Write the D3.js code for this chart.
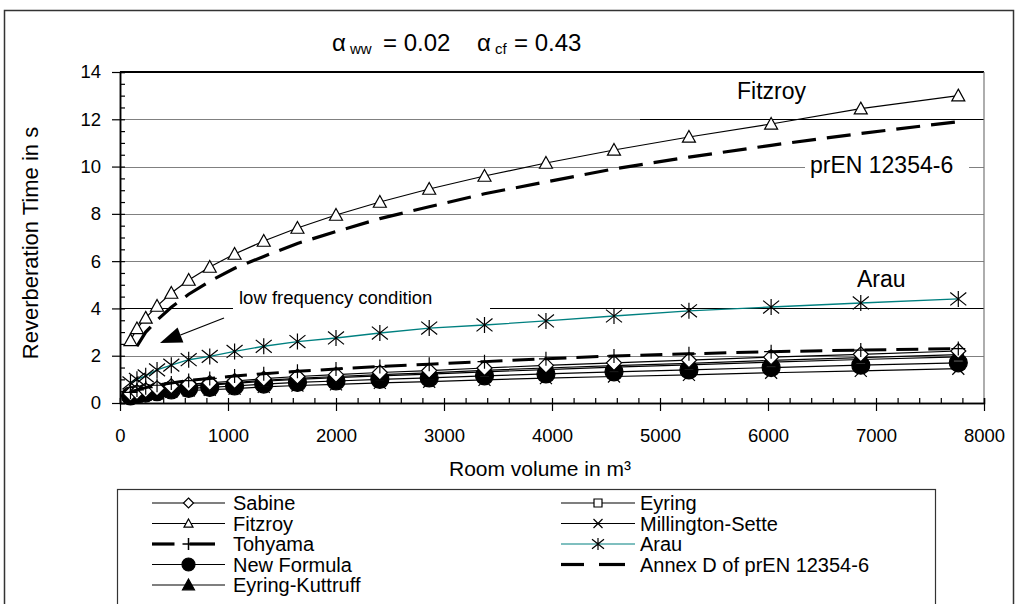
<!DOCTYPE html>
<html lang="en">
<head>
<meta charset="utf-8">
<title>Reverberation time vs room volume</title>
<script src="https://d3js.org/d3.v7.min.js"></script>
<style>
    body { margin: 0; background: #fff; }
    svg text { font-family: "Liberation Sans", Arial, sans-serif; fill: #000; }
</style>
</head>
<body>
<script>
// room volumes (m3)
const volumes = [97, 157, 238, 343, 475, 636, 831, 1061, 1331, 1643, 2000, 2406, 2863, 3375, 3944, 4574, 5268, 6029, 6859, 7762];

// reverberation times (s) per formula
const sabine = [0.39, 0.46, 0.54, 0.62, 0.71, 0.80, 0.85, 0.93, 1.03, 1.12, 1.20, 1.29, 1.37, 1.48, 1.59, 1.70, 1.81, 1.94, 2.06, 2.20];
const eyring = [0.35, 0.41, 0.48, 0.55, 0.63, 0.71, 0.76, 0.83, 0.92, 1.00, 1.07, 1.15, 1.22, 1.32, 1.41, 1.52, 1.61, 1.73, 1.84, 1.95];
const fitzroy = [2.65, 3.15, 3.6, 4.1, 4.65, 5.2, 5.75, 6.3, 6.85, 7.4, 7.95, 8.5, 9.05, 9.6, 10.15, 10.7, 11.25, 11.8, 12.45, 13.0];
const millington = [0.26, 0.31, 0.36, 0.41, 0.47, 0.53, 0.56, 0.61, 0.68, 0.74, 0.79, 0.85, 0.90, 0.98, 1.05, 1.12, 1.19, 1.28, 1.36, 1.45];
const tohyama = [0.45, 0.55, 0.65, 0.75, 0.85, 0.95, 1.04, 1.14, 1.24, 1.34, 1.44, 1.54, 1.64, 1.75, 1.87, 1.99, 2.08, 2.17, 2.24, 2.30];
const arau = [0.85, 1.0, 1.15, 1.4, 1.6, 1.83, 1.97, 2.18, 2.4, 2.6, 2.75, 2.96, 3.17, 3.3, 3.47, 3.68, 3.9, 4.06, 4.23, 4.4];
const newFormula = [0.30, 0.36, 0.42, 0.48, 0.55, 0.62, 0.66, 0.72, 0.80, 0.87, 0.93, 1.00, 1.06, 1.15, 1.23, 1.32, 1.40, 1.50, 1.60, 1.70];
const annexD = [null, 2.4, 3.0, 3.5, 4.05, 4.6, 5.15, 5.7, 6.2, 6.75, 7.25, 7.8, 8.3, 8.85, 9.35, 9.9, 10.4, 10.9, 11.4, 11.9];
const eyringKuttruff = [0.36, 0.43, 0.50, 0.58, 0.66, 0.74, 0.79, 0.86, 0.96, 1.04, 1.12, 1.20, 1.27, 1.38, 1.48, 1.58, 1.68, 1.80, 1.92, 2.05];

const xTicks = [0, 1000, 2000, 3000, 4000, 5000, 6000, 7000, 8000];
const yTicks = [0, 2, 4, 6, 8, 10, 12, 14];
const gridValues = [2, 4, 6, 8, 10, 12];

const w = 1018;
const h = 604;

const svg = d3.select("body")
    .append("svg")
    .attr("width", w)
    .attr("height", h);

const xScale = d3.scaleLinear().domain([0, 8000]).range([120, 984]);
const yScale = d3.scaleLinear().domain([0, 14]).range([403, 72]);

//outer chart frame
svg.append("rect")
    .attr("x", 4.5).attr("y", 10.5)
    .attr("width", 1009).attr("height", 620)
    .attr("fill", "none").attr("stroke", "#333").attr("stroke-width", 1.5);

//title
const title = svg.append("g").attr("font-size", "24px");
title.append("text").attr("x", 332).attr("y", 51).text("α");
title.append("text").attr("x", 350).attr("y", 54).attr("font-size", "15px").text("ww");
title.append("text").attr("x", 383).attr("y", 51).text("= 0.02");
title.append("text").attr("x", 477).attr("y", 51).text("α");
title.append("text").attr("x", 495).attr("y", 54).attr("font-size", "15px").text("cf");
title.append("text").attr("x", 514).attr("y", 51).text("= 0.43");

//gridlines
svg.append("g")
    .selectAll("line")
    .data(gridValues)
    .enter()
    .append("line")
    .attr("x1", xScale(0)).attr("x2", xScale(8000))
    .attr("y1", d => Math.round(yScale(d)) + 0.5)
    .attr("y2", d => Math.round(yScale(d)) + 0.5)
    .attr("stroke", d => d == 4 ? "#000" : "#808080")
    .attr("stroke-width", 1);

// darker stretch of the 12 s line on the right
svg.append("line")
    .attr("x1", 640).attr("x2", xScale(8000))
    .attr("y1", Math.round(yScale(12)) + 0.5).attr("y2", Math.round(yScale(12)) + 0.5)
    .attr("stroke", "#000");

//plot frame: top and right
svg.append("line")
    .attr("x1", xScale(0)).attr("x2", xScale(8000))
    .attr("y1", yScale(14)).attr("y2", yScale(14))
    .attr("stroke", "#000").attr("stroke-width", 2);
svg.append("line")
    .attr("x1", xScale(8000)).attr("x2", xScale(8000))
    .attr("y1", yScale(14)).attr("y2", yScale(0))
    .attr("stroke", "#777").attr("stroke-width", 1.2);

//label boxes that knock out the gridlines
svg.append("rect").attr("x", 233).attr("y", 286).attr("width", 257).attr("height", 30).attr("fill", "#fff");
svg.append("rect").attr("x", 805).attr("y", 152).attr("width", 164).attr("height", 28).attr("fill", "#fff");

//axes
const xMinor = svg.append("g")
    .attr("transform", "translate(0," + yScale(0) + ")")
    .call(d3.axisBottom(xScale).tickValues(d3.range(0, 8001, 200)).tickSize(-5).tickFormat(""));
const xAxis = svg.append("g")
    .attr("transform", "translate(0," + yScale(0) + ")")
    .call(d3.axisBottom(xScale).tickValues(xTicks).tickSizeInner(8).tickSizeOuter(0).tickPadding(18).tickFormat(d3.format("d")));
const yMinor = svg.append("g")
    .attr("transform", "translate(" + xScale(0) + ",0)")
    .call(d3.axisLeft(yScale).tickValues(d3.range(0, 14.01, 0.5)).tickSize(-5).tickFormat(""));
const yAxis = svg.append("g")
    .attr("transform", "translate(" + xScale(0) + ",0)")
    .call(d3.axisLeft(yScale).tickValues(yTicks).tickSizeInner(8).tickSizeOuter(0).tickPadding(11));

[xMinor, xAxis, yMinor, yAxis].forEach(function(g) {
    g.selectAll("line").attr("stroke", "#000").attr("stroke-width", 1.2);
    g.select(".domain").attr("stroke", "#000").attr("stroke-width", 1.5);
    g.selectAll("text")
        .attr("font-family", "'Liberation Sans', Arial, sans-serif")
        .attr("font-size", "18.5px")
        .attr("fill", "#000");
});

//axis titles
svg.append("text")
    .attr("x", 540).attr("y", 476)
    .attr("text-anchor", "middle")
    .attr("font-size", "21px")
    .text("Room volume in m³");
svg.append("text")
    .attr("transform", "translate(38,243) rotate(-90)")
    .attr("text-anchor", "middle")
    .attr("font-size", "22px")
    .text("Reverberation Time in s");

//marker shapes
function markerPath(type, s) {
    if (type == "diamond") return `M0,${-s}L${s},0L0,${s}L${-s},0Z`;
    if (type == "square") return `M${-s},${-s}H${s}V${s}H${-s}Z`;
    if (type == "triangle" || type == "triangleFilled") return `M0,${-s}L${s},${s * 0.8}L${-s},${s * 0.8}Z`;
    if (type == "x") return `M${-s},${-s}L${s},${s}M${-s},${s}L${s},${-s}`;
    if (type == "plus") return `M${-s},0H${s}M0,${-s}V${s}`;
    if (type == "star") return `M${-s},${-s * 0.8}L${s},${s * 0.8}M${-s},${s * 0.8}L${s},${-s * 0.8}M0,${-s}V${s}`;
    if (type == "circle") return d3.symbol(d3.symbolCircle, Math.PI * s * s)();
    return "";
}
function markerFill(type) {
    if (type == "circle" || type == "triangleFilled") return "#000";
    if (type == "diamond" || type == "square" || type == "triangle") return "#fff";
    return "none";
}

//series, drawn bottom to top
const series = [
    { name: "Millington-Sette", values: millington, marker: "x", size: 6, color: "#000", width: 1.2, dash: null },
    { name: "New Formula", values: newFormula, marker: "circle", size: 9, color: "#000", width: 1.2, dash: null },
    { name: "Eyring", values: eyring, marker: "square", size: 5, color: "#000", width: 1.2, dash: null },
    { name: "Eyring-Kuttruff", values: eyringKuttruff, marker: "triangleFilled", size: 7, color: "#000", width: 1.2, dash: null },
    { name: "Sabine", values: sabine, marker: "diamond", size: 7.5, color: "#000", width: 1.2, dash: null },
    { name: "Tohyama", values: tohyama, marker: "plus", size: 7, color: "#000", width: 3, dash: "22,10" },
    { name: "Arau", values: arau, marker: "star", size: 8, color: "#008080", width: 1.3, dash: null },
    { name: "Annex D of prEN 12354-6", values: annexD, marker: null, size: 0, color: "#000", width: 3.2, dash: "24,11" },
    { name: "Fitzroy", values: fitzroy, marker: "triangle", size: 6.5, color: "#000", width: 1.2, dash: null }
];

const line = d3.line()
    .defined(d => d[1] != null)
    .x(d => xScale(d[0]))
    .y(d => yScale(d[1]));

series.forEach(function(s) {
    const pts = volumes.map((v, i) => [v, s.values[i]]);
    const g = svg.append("g");
    g.append("path")
        .attr("d", line(pts))
        .attr("fill", "none")
        .attr("stroke", s.color)
        .attr("stroke-width", s.width)
        .attr("stroke-dasharray", s.dash);
    if (s.marker) {
        g.selectAll("path.m")
            .data(pts.filter(d => d[1] != null))
            .enter()
            .append("path")
            .attr("class", "m")
            .attr("transform", d => "translate(" + xScale(d[0]) + "," + yScale(d[1]) + ")")
            .attr("d", markerPath(s.marker, s.size))
            .attr("fill", markerFill(s.marker))
            .attr("stroke", "#000")
            .attr("stroke-width", 1.2);
    }
});

//annotations
svg.append("text").attr("x", 737).attr("y", 99).attr("font-size", "23px").text("Fitzroy");
svg.append("text").attr("x", 810).attr("y", 173).attr("font-size", "23px").text("prEN 12354-6");
svg.append("text").attr("x", 857).attr("y", 287).attr("font-size", "23px").text("Arau");
svg.append("text").attr("x", 239).attr("y", 304).attr("font-size", "18.5px").text("low frequency condition");

// arrow with a large filled head
const arrowFrom = [224, 318];
const arrowTip = [160, 343];
const ang = Math.atan2(arrowTip[1] - arrowFrom[1], arrowTip[0] - arrowFrom[0]);
const headLen = 22, headHalf = 8;
const bx = arrowTip[0] - headLen * Math.cos(ang), by = arrowTip[1] - headLen * Math.sin(ang);
svg.append("line")
    .attr("x1", arrowFrom[0]).attr("y1", arrowFrom[1])
    .attr("x2", bx).attr("y2", by)
    .attr("stroke", "#000").attr("stroke-width", 1.3);
svg.append("path")
    .attr("d", "M" + arrowTip[0] + "," + arrowTip[1] +
        "L" + (bx + headHalf * Math.sin(ang)) + "," + (by - headHalf * Math.cos(ang)) +
        "L" + (bx - headHalf * Math.sin(ang)) + "," + (by + headHalf * Math.cos(ang)) + "Z")
    .attr("fill", "#000");

//legend
svg.append("rect")
    .attr("x", 117.5).attr("y", 489.5)
    .attr("width", 818).attr("height", 140)
    .attr("fill", "#fff").attr("stroke", "#333").attr("stroke-width", 1.2);

const legendLeft = ["Sabine", "Fitzroy", "Tohyama", "New Formula", "Eyring-Kuttruff"];
const legendRight = ["Eyring", "Millington-Sette", "Arau", "Annex D of prEN 12354-6"];
const legendRows = [503, 523.5, 544, 564.5, 585];

function drawLegend(names, x1, x2, tx) {
    names.forEach(function(name, i) {
        const s = series.find(d => d.name == name);
        const cy = legendRows[i];
        const g = svg.append("g");
        const mid = (x1 + x2) / 2;
        if (s.dash) {
            // two thick dashes either side of the marker
            g.append("line").attr("x1", x1).attr("x2", mid - 14).attr("y1", cy).attr("y2", cy)
                .attr("stroke", s.color).attr("stroke-width", 3.2);
            g.append("line").attr("x1", mid + 1).attr("x2", x2 - 10).attr("y1", cy).attr("y2", cy)
                .attr("stroke", s.color).attr("stroke-width", 3.2);
        } else {
            g.append("line").attr("x1", x1).attr("x2", x2).attr("y1", cy).attr("y2", cy)
                .attr("stroke", s.color).attr("stroke-width", 1.2);
        }
        if (s.marker) {
            const ls = { x: 4.5, circle: 6.5, square: 4, triangleFilled: 6, diamond: 5, plus: 6, star: 6, triangle: 4.5 }[s.marker];
            g.append("path")
                .attr("transform", "translate(" + mid + "," + cy + ")")
                .attr("d", markerPath(s.marker, ls))
                .attr("fill", markerFill(s.marker))
                .attr("stroke", "#000")
                .attr("stroke-width", s.marker == "plus" ? 1.5 : 1.2);
        }
        g.append("text")
            .attr("x", tx).attr("y", cy + 7)
            .attr("font-size", "20px")
            .text(name);
    });
}
drawLegend(legendLeft, 152, 225, 233);
drawLegend(legendRight, 561, 635, 640);
</script>
</body>
</html>
